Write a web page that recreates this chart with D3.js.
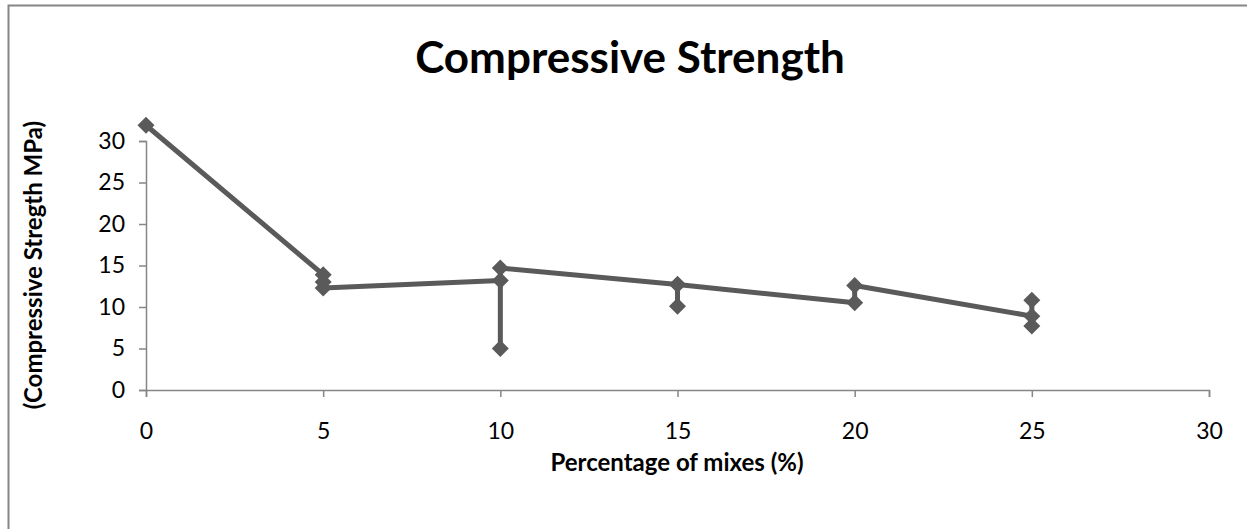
<!DOCTYPE html>
<html><head><meta charset="utf-8">
<script src="https://cdn.jsdelivr.net/npm/d3@7"></script>
<style>body{margin:0;background:#fff}svg{display:block}</style>
</head><body>
<svg id="c" width="1247" height="529"></svg>
<script>
const title = "Compressive Strength";
const xTitle = "Percentage of mixes (%)";
const yTitle = "(Compressive Stregth MPa)";
const xTicks = [0, 5, 10, 15, 20, 25, 30];
const yTicks = [0, 5, 10, 15, 20, 25, 30];
const mixPercent = [0, 5, 5, 5, 10, 10, 10, 15, 15, 15, 20, 20, 25, 25, 25];
const strength  = [31.9, 13.9, 13.0, 12.3, 13.2, 5.0, 14.7, 12.7, 10.1, 12.7, 10.5, 12.6, 8.9, 10.8, 7.7];

const svg = d3.select("#c");
const font = "Lato, 'Open Sans', sans-serif";
const gray = "#868686", lineCol = "#5a5a5a";

svg.append("rect").attr("x", 8.5).attr("y", 5.5).attr("width", 1300).attr("height", 600)
  .attr("fill", "none").attr("stroke", gray).attr("stroke-width", 2);

const x = d3.scaleLinear().domain([0, 30]).range([146, 1209]);
const y = d3.scaleLinear().domain([0, 30]).range([390, 141]);

const xa = svg.append("g").attr("transform", "translate(0,390)")
  .call(d3.axisBottom(x).tickValues(xTicks).tickSize(7).tickPadding(26).tickFormat(d3.format("d")));
const ya = svg.append("g").attr("transform", "translate(146,0)")
  .call(d3.axisLeft(y).tickValues(yTicks).tickSize(7).tickPadding(14).tickFormat(d3.format("d")));
[xa, ya].forEach(a => {
  a.select(".domain").attr("stroke", gray).attr("stroke-width", 1.5);
  a.selectAll(".tick line").attr("stroke", gray).attr("stroke-width", 1.5);
  a.selectAll(".tick text").attr("font-family", font).attr("font-size", 23).attr("fill", "#000");
});

const pts = mixPercent.map((d, i) => [d, strength[i]]);
svg.append("path").datum(pts)
  .attr("d", d3.line().x(d => x(d[0])).y(d => y(d[1])))
  .attr("fill", "none").attr("stroke", lineCol).attr("stroke-width", 5).attr("stroke-linejoin", "round");
svg.selectAll(".m").data(pts).join("path").attr("class", "m")
  .attr("transform", d => `translate(${x(d[0])},${y(d[1])})`)
  .attr("d", "M0,-8.5L8.5,0L0,8.5L-8.5,0Z").attr("fill", lineCol);

svg.append("text").attr("x", 630).attr("y", 73).attr("text-anchor", "middle")
  .attr("font-family", font).attr("font-weight", "bold").attr("font-size", 44).text(title);
svg.append("text").attr("x", 677).attr("y", 471).attr("text-anchor", "middle")
  .attr("font-family", font).attr("font-weight", "bold").attr("font-size", 24).text(xTitle);
svg.append("text").attr("transform", "translate(42,265) rotate(-90)").attr("text-anchor", "middle")
  .attr("font-family", font).attr("font-weight", "bold").attr("font-size", 24).text(yTitle);
</script>
</body></html>
